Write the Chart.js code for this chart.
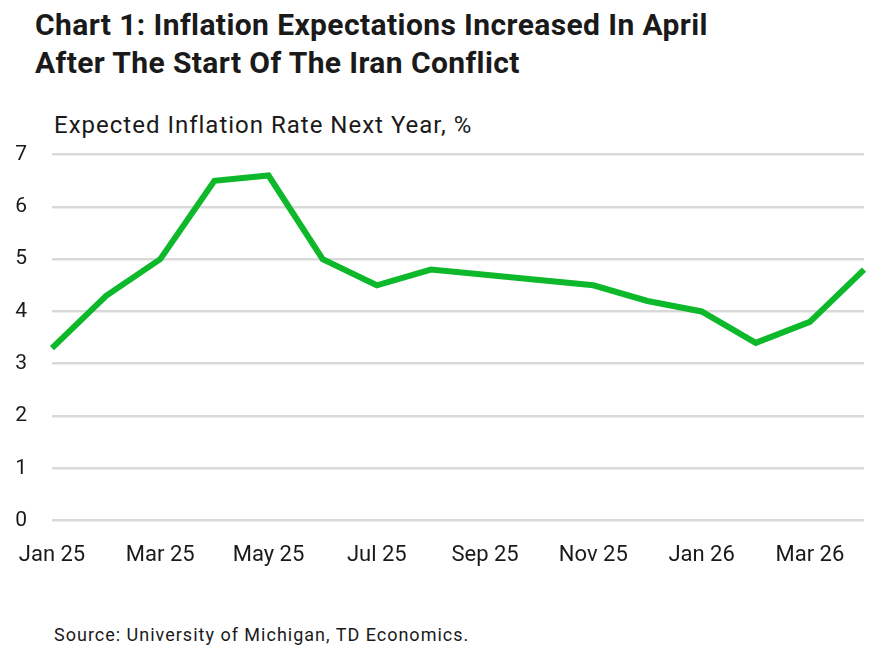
<!DOCTYPE html>
<html>
<head>
    <meta charset="UTF-8">
    <title>Chart 1: Inflation Expectations</title>
    <script src="https://cdn.jsdelivr.net/npm/chart.js"></script>
    <style>
        body {
            margin: 0;
            background: #fff;
            font-family: Roboto, "Liberation Sans", sans-serif;
            color: #1a1a1a;
        }
        .page {
            position: relative;
            width: 869px;
            height: 649px;
        }
        .title {
            position: absolute;
            left: 35px;
            top: 6px;
            font-size: 30px;
            font-weight: 700;
            line-height: 38px;
            letter-spacing: 0.4px;
        }
        .subtitle {
            position: absolute;
            left: 54px;
            top: 111px;
            font-size: 24px;
            letter-spacing: 1px;
        }
        .source {
            position: absolute;
            left: 54px;
            top: 624px;
            font-size: 18px;
            letter-spacing: 1px;
        }
        .chart-container {
            position: absolute;
            left: 0;
            top: 117px;
            width: 869px;
            height: 466px;
        }
    </style>
</head>
<body>
    <div class="page">
        <div class="title">Chart 1: Inflation Expectations Increased In April<br>After The Start Of The Iran Conflict</div>
        <div class="subtitle">Expected Inflation Rate Next Year, %</div>
        <div class="chart-container">
            <canvas id="inflationChart"></canvas>
        </div>
        <div class="source">Source: University of Michigan, TD Economics.</div>
    </div>

    <script>
    const months = ['Jan 25', 'Feb 25', 'Mar 25', 'Apr 25', 'May 25', 'Jun 25', 'Jul 25', 'Aug 25',
                    'Sep 25', 'Oct 25', 'Nov 25', 'Dec 25', 'Jan 26', 'Feb 26', 'Mar 26', 'Apr 26'];
    const expectedInflation = [3.3, 4.3, 5.0, 6.5, 6.6, 5.0, 4.5, 4.8, 4.7, 4.6, 4.5, 4.2, 4.0, 3.4, 3.8, 4.8];

    new Chart('inflationChart', {
        type: 'line',
        data: {
            labels: months,
            datasets: [{
                label: 'Expected Inflation Rate Next Year, %',
                data: expectedInflation,
                borderColor: '#0db82a',
                borderWidth: 6,
                pointRadius: 0,
                tension: 0,
                borderCapStyle: 'butt'
            }]
        },
        options: {
            responsive: true,
            maintainAspectRatio: false,
            animation: false,
            layout: {
                padding: { top: 13, right: 5, left: 0, bottom: 0 }
            },
            plugins: {
                legend: { display: false },
                tooltip: { enabled: false }
            },
            scales: {
                x: {
                    offset: false,
                    afterFit: function (scale) {
                        scale.paddingRight = 0;
                    },
                    grid: { display: false },
                    border: { display: false },
                    ticks: {
                        autoSkip: false,
                        maxRotation: 0,
                        padding: 14,
                        color: '#1a1a1a',
                        font: { family: 'Roboto', size: 22 },
                        callback: function (value, index) {
                            return index % 2 === 0 ? months[index] : '';
                        }
                    }
                },
                y: {
                    min: 0,
                    max: 7,
                    afterFit: function (scale) { scale.width = 52; },
                    grid: {
                        color: '#d9d9d9',
                        lineWidth: 2.5,
                        drawTicks: false
                    },
                    border: { display: false },
                    ticks: {
                        stepSize: 1,
                        padding: 25,
                        color: '#1a1a1a',
                        font: { family: 'Roboto', size: 21 }
                    }
                }
            }
        }
    });
    </script>
</body>
</html>
